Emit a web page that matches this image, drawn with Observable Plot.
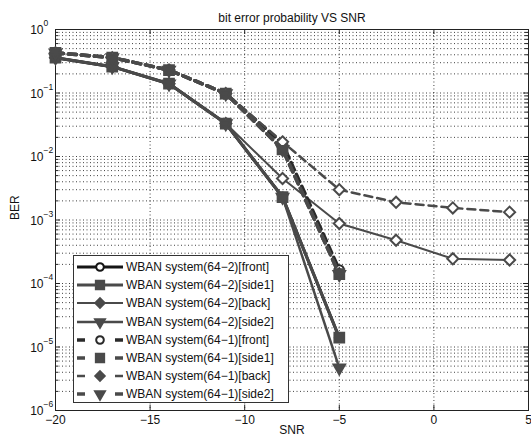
<!DOCTYPE html>
<html>
<head>
<meta charset="utf-8">
<script src="https://cdn.jsdelivr.net/npm/d3@7"></script>
<script src="https://cdn.jsdelivr.net/npm/@observablehq/plot@0.6"></script>
<style>
  html, body { margin: 0; padding: 0; background: #fff; }
  #wrap { position: relative; width: 531px; height: 442px; font-family: "Liberation Sans", Arial, sans-serif; }
  #legend { position: absolute; left: 73px; top: 255px; width: 216px; height: 148px; border: 1px solid #333; background: #fff; box-sizing: border-box; padding-top: 2px; }
  .row { display: flex; align-items: center; height: 18.2px; }
  .row svg { flex: none; }
  .row span { font-size: 12px; color: #111; white-space: nowrap; margin-left: 1px; }
</style>
</head>
<body>
<div id="wrap"></div>
<script>
// ---- data ----
const snr = [-20, -17, -14, -11, -8, -5, -2, 1, 4];
const xTicks = [-20, -15, -10, -5, 0, 5];
const yExponents = [0, -1, -2, -3, -4, -5, -6];

const seriesNames = [
  "WBAN system(64−2)[front]",
  "WBAN system(64−2)[side1]",
  "WBAN system(64−2)[back]",
  "WBAN system(64−2)[side2]",
  "WBAN system(64−1)[front]",
  "WBAN system(64−1)[side1]",
  "WBAN system(64−1)[back]",
  "WBAN system(64−1)[side2]"
];
const ber642Front = [0.36, 0.26, 0.14, 0.033, 0.0023, 1.4e-5];
const ber642Side1 = [0.36, 0.26, 0.14, 0.033, 0.0023, 1.4e-5];
const ber642Back  = [0.36, 0.26, 0.14, 0.033, 0.0045, 0.00088, 0.00048, 0.000245, 0.000235];
const ber642Side2 = [0.36, 0.26, 0.14, 0.033, 0.0023, 4.7e-6];
const ber641Front = [0.43, 0.36, 0.23, 0.098, 0.016, 1.65e-4];
const ber641Side1 = [0.43, 0.36, 0.23, 0.098, 0.013, 1.4e-4];
const ber641Back  = [0.43, 0.36, 0.23, 0.098, 0.017, 0.003, 0.0019, 0.00155, 0.00133];
const ber641Side2 = [0.43, 0.36, 0.23, 0.098, 0.013, 1.4e-4];
const allBer = [ber642Front, ber642Side1, ber642Back, ber642Side2, ber641Front, ber641Side1, ber641Back, ber641Side2];

// ---- styles ----
const styles = [
  {stroke: "#151515", width: 3,   dash: null,  symbol: "circle",   fill: "none",    legendFill: "#fff",    rotate: 0,   r: 4.5},
  {stroke: "#4a4a4a", width: 3,   dash: null,  symbol: "square",   fill: "#4a4a4a", legendFill: "#4a4a4a", rotate: 0,   r: 5.5},
  {stroke: "#4a4a4a", width: 2,   dash: null,  symbol: "diamond2", fill: "#fff",    legendFill: "#4a4a4a", rotate: 0,   r: 5},
  {stroke: "#4a4a4a", width: 2.5, dash: null,  symbol: "triangle", fill: "#4a4a4a", legendFill: "#4a4a4a", rotate: 180, r: 4.3},
  {stroke: "#2a2a2a", width: 3.5, dash: "8,5", symbol: "circle",   fill: "none",    legendFill: "#fff",    rotate: 0,   r: 4.5},
  {stroke: "#4a4a4a", width: 3.5, dash: "8,5", symbol: "square",   fill: "#4a4a4a", legendFill: "#4a4a4a", rotate: 0,   r: 5.5},
  {stroke: "#4a4a4a", width: 2.5, dash: "8,5", symbol: "diamond2", fill: "#fff",    legendFill: "#4a4a4a", rotate: 0,   r: 5},
  {stroke: "#4a4a4a", width: 3.5, dash: "8,5", symbol: "triangle", fill: "#4a4a4a", legendFill: "#4a4a4a", rotate: 180, r: 4.3}
];

const majorY = yExponents.map(e => Math.pow(10, e));
const minorY = [];
for (let e = -6; e < 0; e++) for (let m = 2; m <= 9; m++) minorY.push(m * Math.pow(10, e));
const allY = majorY.concat(minorY);

const frameW = 531 - 55 - 3, frameH = 442 - 29 - 32;

const seriesMarks = [];
allBer.forEach((vals, i) => {
  const s = styles[i];
  const rows = vals.map((v, j) => ({snr: snr[j], ber: v}));
  seriesMarks.push(Plot.line(rows, {x: "snr", y: "ber", stroke: s.stroke, strokeWidth: s.width, strokeDasharray: s.dash, strokeLinejoin: "round"}));
  seriesMarks.push(Plot.dot(rows, {x: "snr", y: "ber", symbol: s.symbol, r: s.r, fill: s.fill, stroke: s.stroke, strokeWidth: 2, rotate: s.rotate}));
});

const chart = Plot.plot({
  width: 531, height: 442,
  marginTop: 29, marginBottom: 32, marginLeft: 55, marginRight: 3,
  x: {domain: [-20, 5]},
  y: {type: "log", domain: [1e-6, 1]},
  style: {fontFamily: "Liberation Sans, Arial, sans-serif", fontSize: "12px", background: "#fff", color: "#111"},
  marks: [
    Plot.gridY(allY, {stroke: "#000", strokeOpacity: 0.75, strokeDasharray: "1,2.5"}),
    Plot.gridX(xTicks, {stroke: "#000", strokeOpacity: 0.75, strokeDasharray: "1,2.5"}),
    // inward ticks
    Plot.tickY(majorY, {y: d => d, insetRight: frameW - 5, stroke: "#222"}),
    Plot.tickY(majorY, {y: d => d, insetLeft: frameW - 5, stroke: "#222"}),
    Plot.tickY(minorY, {y: d => d, insetRight: frameW - 3, stroke: "#222"}),
    Plot.tickY(minorY, {y: d => d, insetLeft: frameW - 3, stroke: "#222"}),
    Plot.tickX(xTicks, {x: d => d, insetTop: frameH - 5, stroke: "#222"}),
    Plot.tickX(xTicks, {x: d => d, insetBottom: frameH - 5, stroke: "#222"}),
    Plot.frame({stroke: "#222"}),
    Plot.axisX({ticks: xTicks, tickSize: 0, tickPadding: 5, label: null, fontSize: 12}),
    Plot.axisY({ticks: [], label: null, tickSize: 0}),
    // y tick labels as 10 with superscript exponent
    Plot.text(yExponents, {y: e => Math.pow(10, e), frameAnchor: "left", text: () => "10", textAnchor: "end", dx: -12, dy: 1, fontSize: 12}),
    Plot.text(yExponents, {y: e => Math.pow(10, e), frameAnchor: "left", text: e => String(e).replace("-", "−"), textAnchor: "start", dx: -12, dy: -6, fontSize: 8.5}),
    ...seriesMarks,
    Plot.text(["bit error probability VS SNR"], {frameAnchor: "top", text: d => d, dy: -16, fontSize: 12}),
    Plot.text(["SNR"], {frameAnchor: "bottom", text: d => d, dy: 23, fontSize: 12}),
    Plot.text(["BER"], {frameAnchor: "left", text: d => d, dx: -40, rotate: -90, fontSize: 12})
  ]
});

const wrap = document.getElementById("wrap");
wrap.appendChild(chart);

// legend
const legend = document.createElement("div");
legend.id = "legend";
seriesNames.forEach((name, i) => {
  const s = styles[i];
  const row = document.createElement("div");
  row.className = "row";
  const svg = d3.create("svg").attr("width", 51).attr("height", 18);
  const segs = s.dash ? [[3, 11], [41, 49]] : [[3, 49]];
  segs.forEach(([a, b]) => {
    svg.append("line").attr("x1", a).attr("x2", b).attr("y1", 9).attr("y2", 9)
      .attr("stroke", s.stroke).attr("stroke-width", s.width);
  });
  const sym = {circle: d3.symbolCircle, square: d3.symbolSquare, diamond2: d3.symbolDiamond2, triangle: d3.symbolTriangle}[s.symbol];
  const lr = s.r * 0.85;
  svg.append("path").attr("d", d3.symbol(sym, Math.PI * lr * lr)())
    .attr("transform", `translate(26,9) rotate(${s.rotate})`)
    .attr("fill", s.legendFill).attr("stroke", s.stroke).attr("stroke-width", 2);
  row.appendChild(svg.node());
  const span = document.createElement("span");
  span.textContent = name;
  row.appendChild(span);
  legend.appendChild(row);
});
wrap.appendChild(legend);
</script>
</body>
</html>
